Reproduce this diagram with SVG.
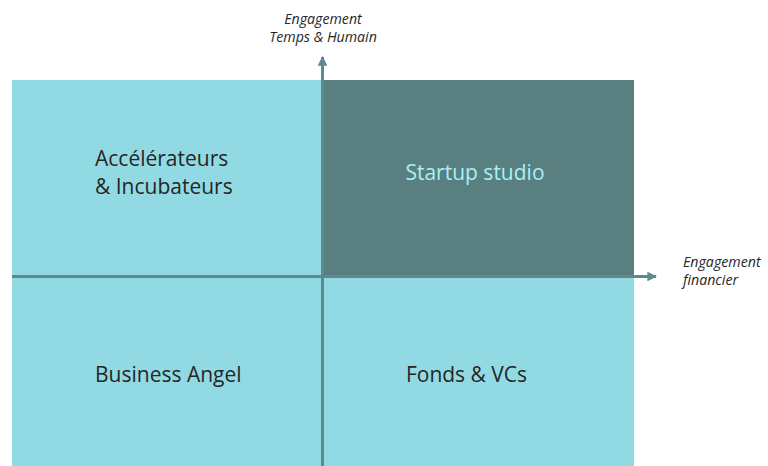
<svg xmlns="http://www.w3.org/2000/svg" width="768" height="466" viewBox="0 0 768 466">
  <defs>
    <style>
      .light { fill: #91DAE4; }
      .dark { fill: #5A7F80; }
      .lbl { font-family: "Open Sans", "Liberation Sans", sans-serif; font-size: 21px; fill: #262626; }
      .lbl-light { fill: #A8F0F7; }
      .axis-lbl { font-family: "Open Sans", "Liberation Sans", sans-serif; font-size: 14.2px; font-style: italic; fill: #262626; }
      .axis { stroke: #5E8A8D; stroke-width: 3; fill: none; }
    </style>
    <marker id="arrow" viewBox="0 0 10 10" refX="9" refY="5" markerWidth="3.2" markerHeight="3.2" orient="auto" markerUnits="strokeWidth">
      <path d="M0,0 L10,5 L0,10 Z" fill="#5E8A8D"/>
    </marker>
  </defs>
  <rect width="768" height="466" fill="#FFFFFF"/>

  <g id="q-accelerateurs">
    <rect class="light" x="12" y="80" width="311" height="196"/>
    <text class="lbl" x="95" y="166">Accélérateurs</text>
    <text class="lbl" x="95" y="194">&amp; Incubateurs</text>
  </g>
  <g id="q-startup-studio">
    <rect class="dark" x="322" y="80" width="312" height="196"/>
    <text class="lbl lbl-light" x="475" y="180" text-anchor="middle">Startup studio</text>
  </g>
  <g id="q-business-angel">
    <rect class="light" x="12" y="276" width="311" height="190"/>
    <text class="lbl" x="95" y="382">Business Angel</text>
  </g>
  <g id="q-fonds">
    <rect class="light" x="322" y="276" width="312" height="190"/>
    <text class="lbl" x="466.5" y="382" text-anchor="middle">Fonds &amp; VCs</text>
  </g>

  <g id="connectors">
    <line class="axis" x1="12" y1="276.5" x2="656" y2="276.5" marker-end="url(#arrow)"/>
    <line class="axis" x1="322.5" y1="466" x2="322.5" y2="57" marker-end="url(#arrow)"/>
  </g>

  <g id="axis-y-label">
    <text class="axis-lbl" x="323" y="24" text-anchor="middle">Engagement</text>
    <text class="axis-lbl" x="323" y="42" text-anchor="middle">Temps &amp; Humain</text>
  </g>
  <g id="axis-x-label">
    <text class="axis-lbl" x="683" y="267">Engagement</text>
    <text class="axis-lbl" x="683" y="285">financier</text>
  </g>
</svg>
